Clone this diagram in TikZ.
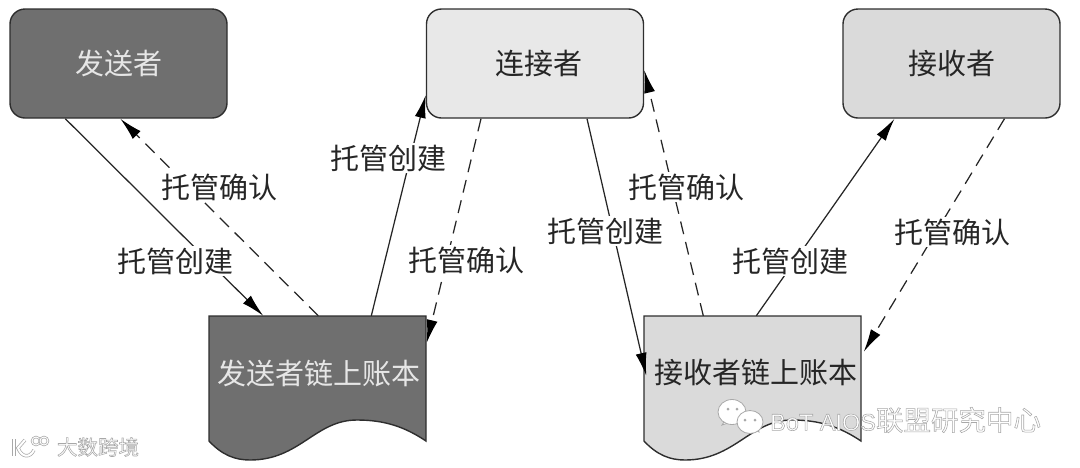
\documentclass[tikz,border=0pt]{standalone}
\usepackage{fontspec}
\setmainfont{Noto Sans CJK SC}
\newfontfamily\latinwm{Liberation Sans}
\usetikzlibrary{arrows.meta}
\definecolor{darkfill}{HTML}{6F6F6F}
\definecolor{midfill}{HTML}{DADADA}
\definecolor{lightfill}{HTML}{E8E8E8}
\definecolor{edgecol}{HTML}{2E2E2E}
\definecolor{wmcol}{HTML}{A8A8A8}
\definecolor{lighttext}{HTML}{E6E6E6}
\newcommand{\wmoutline}[1]{\special{pdf:code q 2 Tr 0.55 w 0.66 G 1 g}#1\special{pdf:code 0 Tr Q}}
\tikzset{
  actor/.style={draw=edgecol,line width=1.4pt,rounded corners=15pt,minimum width=217pt,minimum height=109pt,inner sep=0pt,font=\fontsize{29}{31}\selectfont,text=black!85},
  ledgertext/.style={minimum width=217pt,minimum height=114pt,inner sep=0pt,font=\fontsize{29}{31}\selectfont,text=black!85},
  ledgerpath/.style={draw=edgecol,line width=1.4pt},
  link/.style={line width=1.25pt,black!85,-{Latex[length=23pt,width=11pt,black]}},
  dlink/.style={link,dash pattern=on 13pt off 8pt},
  tag/.style={fill=white,inner sep=1.5pt,font=\fontsize{29}{31}\selectfont,text=black!85},
  wm/.style={inner sep=0pt},
  logostroke/.style={wmcol,double=white,double distance=2pt,line width=0.7pt},
  bubble/.style={fill=white,draw=wmcol,line width=0.8pt},
  bubbledot/.style={fill=wmcol,draw=none}
}
\begin{document}
\begin{tikzpicture}[x=1pt,y=-1pt]
\useasboundingbox (0,0) rectangle (1080,467);
% boxes
\node[actor,fill=darkfill,text=lighttext] (sender) at (118.5,63.5) {发送者};
\node[actor,fill=lightfill] (relay) at (535,63.5) {\hspace*{8pt}连接者};
\node[actor,fill=midfill] (receiver) at (951.5,63.5) {接收者};
% ledgers
\path[ledgerpath,fill=darkfill] (209,316) -- (426,316) -- (426,441)
  .. controls (405,427) and (385,420) .. (357,420)
  .. controls (315,420) and (300,460) .. (250,460)
  .. controls (235,460) and (222,455) .. (209,441) -- cycle;
\path[ledgerpath,fill=midfill] (644,316) -- (861,316) -- (861,441)
  .. controls (840,427) and (820,420) .. (792,420)
  .. controls (750,420) and (735,460) .. (685,460)
  .. controls (670,460) and (657,455) .. (644,441) -- cycle;
\node[ledgertext,text=lighttext] (sledger) at (319,373) {发送者链上账本};
\node[ledgertext] (rledger) at (756,373) {接收者链上账本};
% free ends on the borders
\coordinate (a1) at ([xshift=56pt]sender.south west);
\coordinate (a2) at ([xshift=53pt]sledger.north west);
\coordinate (b1) at ([xshift=108pt]sledger.north west);
\coordinate (b2) at ([xshift=111pt]sender.south west);
\coordinate (c1) at ([xshift=161pt]sledger.north west);
\coordinate (c2) at ([yshift=-31.5pt]relay.west);
\coordinate (d1) at ([xshift=-54pt]relay.south);
\coordinate (d2) at ([xshift=-1pt,yshift=-27pt]sledger.north east);
\coordinate (e1) at ([xshift=52pt]relay.south);
\coordinate (e2) at ([xshift=-1pt,yshift=-60pt]rledger.north west);
\coordinate (f1) at ([xshift=56pt]rledger.north west);
\coordinate (f2) at ([yshift=-6.5pt]relay.east);
\coordinate (g1) at ([xshift=109pt]rledger.north west);
\coordinate (g2) at ([xshift=-57pt]receiver.south);
\coordinate (h1) at ([xshift=53pt]receiver.south);
\coordinate (h2) at ([xshift=-1pt,yshift=-36pt]rledger.north east);
% connectors
\draw[link] (a1) -- (a2);
\draw[dlink] (b1) -- (b2);
\draw[link] (c1) -- (c2);
\draw[dlink] (d1) -- (d2);
\draw[link] (e1) -- (e2);
\draw[dlink] (f1) -- (f2);
\draw[link] (g1) -- (g2);
\draw[dlink] (h1) -- (h2);
% labels
\node[tag] (t1) at (175,261) {托管创建};
\node[tag] (t2) at (219,187) {托管确认};
\node[tag] (t3) at (388,158) {托管创建};
\node[tag] (t4) at (466,260) {托管确认};
\node[tag] (t5) at (605,231) {托管创建};
\node[tag] (t6) at (686,187) {托管确认};
\node[tag] (t7) at (790,261) {托管创建};
\node[tag] (t8) at (952,232) {托管确认};
% watermarks
\draw[logostroke] (14,439) -- (14,456);
\draw[logostroke] (25,440) -- (18,448) .. controls (22,458) and (30,458) .. (34,450);
\draw[logostroke,double distance=1pt] (36,441) circle (4pt);
\draw[logostroke,double distance=1pt] (44,441) circle (4pt);
\node[wm,font=\fontsize{20.5}{22}\selectfont] (wmleft) at (98,447) {\wmoutline{大数跨境}};
\path[bubble] (722,425) -- (726,419) -- (731,422) -- cycle;
\path[bubble] (732,412) ellipse (14pt and 12.5pt);
\path[bubble] (759,432) -- (754,430) -- (757,426) -- cycle;
\path[bubble] (750,422) ellipse (13pt and 11.5pt);
\path[bubbledot] (728,409) circle (1.5pt) (737,409) circle (1.5pt) (745,420) circle (1.5pt) (755,420) circle (1.5pt);
\node[wm,anchor=west,font=\fontsize{23.5}{26}\latinwm\selectfont] (wmright) at (770,420) {\wmoutline{BoT AIOS{\fontsize{27.5}{30}\rmfamily\selectfont 联盟研究中心}}};
\end{tikzpicture}
\end{document}
